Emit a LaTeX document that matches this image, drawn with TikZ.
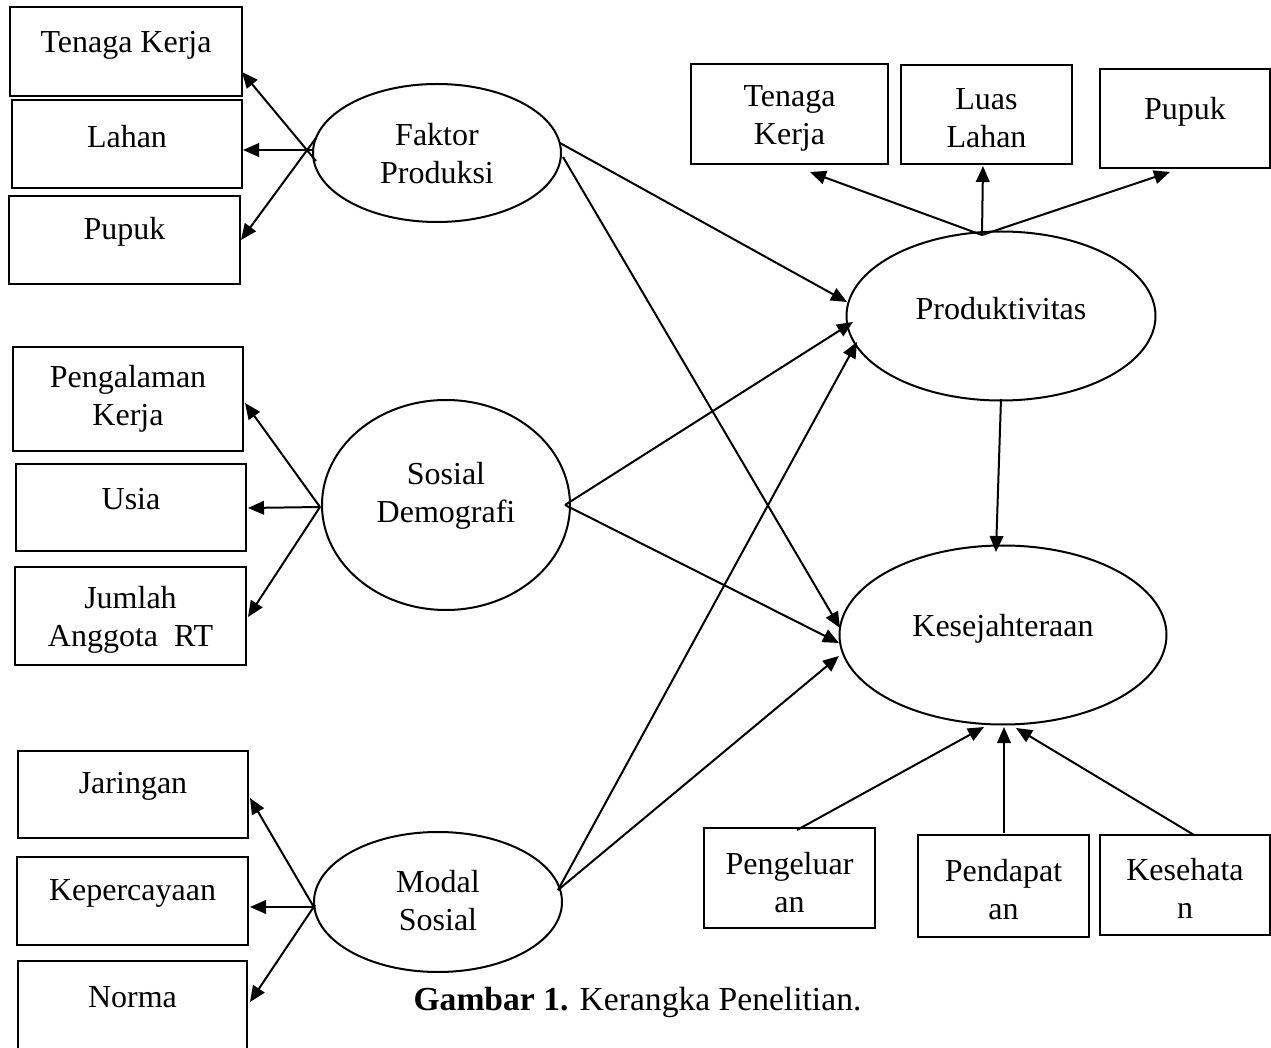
\documentclass[tikz,border=0pt]{standalone}
\usepackage{fontspec}
\setmainfont{Liberation Serif}
\usetikzlibrary{shapes.geometric,arrows.meta}
\begin{document}
\begin{tikzpicture}[x=0.5pt,y=-0.5pt,
  box/.style 2 args={draw, line width=1.2pt, inner sep=0pt, minimum width=#1*0.5pt, minimum height=#2*0.5pt},
  oval/.style 2 args={draw, ellipse, line width=1pt, inner sep=0pt, minimum width=#1*0.5pt, minimum height=#2*0.5pt},
  txt/.style={inner sep=0pt, align=center, font=\fontsize{16}{19}\selectfont},
  arr/.style={line width=1pt, -{Triangle[length=8pt,width=6.8pt]}}]
\useasboundingbox (0,0) rectangle (1271,1048);
% left boxes
\node[box={232}{89}] (l1) at (126,51.5) {};
\node[txt] (l1t) at (126,45) {Tenaga Kerja};
\node[box={230}{88}] (l2) at (127,144) {};
\node[txt] (l2t) at (127,137) {Lahan};
\node[box={231}{88}] (l3) at (124.5,240) {};
\node[txt] (l3t) at (124.5,232) {Pupuk};
\node[box={230}{104}] (l4) at (128,399) {};
\node[txt] (l4t) at (128,399) {Pengalaman\\Kerja};
\node[box={230}{87}] (l5) at (131,507.5) {};
\node[txt] (l5t) at (131,499) {Usia};
\node[box={231}{98}] (l6) at (130.5,616) {};
\node[txt] (l6t) at (130.5,620) {Jumlah\\Anggota\ \ RT};
\node[box={230}{87}] (l7) at (133,794.5) {};
\node[txt] (l7t) at (133,786) {Jaringan};
\node[box={231}{88}] (l8) at (132.5,901) {};
\node[txt] (l8t) at (132.5,893) {Kepercayaan};
\node[box={229}{91}] (l9) at (132.5,1006.5) {};
\node[txt] (l9t) at (132.5,997) {Norma};
% right top boxes
\node[box={197}{100}] (r1) at (789.5,114) {};
\node[txt] (r1t) at (789.5,118) {Tenaga\\Kerja};
\node[box={171}{99}] (r2) at (986.5,114.5) {};
\node[txt] (r2t) at (986.5,118) {Luas\\Lahan};
\node[box={170}{99}] (r3) at (1185,118.5) {};
\node[txt] (r3t) at (1185,112) {Pupuk};
% bottom boxes
\node[box={171}{100}] (b1) at (789.5,878) {};
\node[txt] (b1t) at (789.5,883) {Pengeluar\\an};
\node[box={171}{102}] (b2) at (1003.5,886) {};
\node[txt] (b2t) at (1003.5,889.5) {Pendapat\\an};
\node[box={170}{100}] (b3) at (1185,885) {};
\node[txt] (b3t) at (1185,888) {Kesehata\\n};
% ellipses
\node[oval={248}{138}] (fp) at (437,153) {};
\node[txt] (fpt) at (437,153.5) {Faktor\\Produksi};
\node[oval={248}{210}] (sd) at (446,505) {};
\node[txt] (sdt) at (446,496) {Sosial\\Demografi};
\node[oval={248}{140}] (ms) at (438,902) {};
\node[txt] (mst) at (438,901) {Modal\\Sosial};
\node[oval={309}{169}] (pr) at (1001,316) {};
\node[txt] (prt) at (1001,309) {Produktivitas};
\node[oval={327}{179}] (ks) at (1003,635) {};
\node[txt] (kst) at (1003,629) {Kesejahteraan};
% caption
\node[inner sep=0pt, font=\fontsize{16.8}{20}\selectfont] (cap) at (637.5,1002) {\textbf{Gambar 1.} Kerangka Penelitian.};
% coordinates for connector ends
\coordinate (fpA) at (316,161); \coordinate (l1e) at (242,72);
\coordinate (fpB) at (314,150); \coordinate (l2e) at (243,150);
\coordinate (fpC) at (316,138); \coordinate (l3e) at (241,240);
\coordinate (sdO) at (320,507);
\coordinate (l4e) at (245,403); \coordinate (l5e) at (248,508); \coordinate (l6e) at (248,617);
\coordinate (msA) at (315,909); \coordinate (l7e) at (250,798);
\coordinate (msB) at (315,907); \coordinate (l8e) at (250,907);
\coordinate (msC) at (315,905); \coordinate (l9e) at (250,1002);
\coordinate (prO) at (982,235);
\coordinate (r1e) at (810,172); \coordinate (r2e) at (983,166); \coordinate (r3e) at (1170,172);
\coordinate (prB) at (1001,399); \coordinate (ksT) at (996,552);
\coordinate (fpR1) at (560,143); \coordinate (fpR2) at (563,157);
\coordinate (sdR) at (565,505);
\coordinate (msR) at (558,890);
\coordinate (prL1) at (847,302); \coordinate (prL2) at (853,322); \coordinate (prL3) at (857,342);
\coordinate (ksL1) at (840,628); \coordinate (ksL2) at (839,643); \coordinate (ksL3) at (839,656);
\coordinate (b1s) at (797,830); \coordinate (ksB1) at (984,727);
\coordinate (b2s) at (1004,833); \coordinate (ksB2) at (1004,727);
\coordinate (b3s) at (1194,835); \coordinate (ksB3) at (1016,728);
% arrows to indicator boxes
\draw[arr] (fpA) -- (l1e);
\draw[arr] (fpB) -- (l2e);
\draw[arr] (fpC) -- (l3e);
\draw[arr] (sdO) -- (l4e);
\draw[arr] (sdO) -- (l5e);
\draw[arr] (sdO) -- (l6e);
\draw[arr] (msA) -- (l7e);
\draw[arr] (msB) -- (l8e);
\draw[arr] (msC) -- (l9e);
\draw[arr] (prO) -- (r1e);
\draw[arr] (prO) -- (r2e);
\draw[arr] (prO) -- (r3e);
% main arrows
\draw[arr] (fpR1) -- (prL1);
\draw[arr] (sdR) -- (prL2);
\draw[arr] (msR) -- (prL3);
\draw[arr] (fpR2) -- (ksL1);
\draw[arr] (sdR) -- (ksL2);
\draw[arr] (msR) -- (ksL3);
\draw[arr] (prB) -- (ksT);
\draw[arr] (b1s) -- (ksB1);
\draw[arr] (b2s) -- (ksB2);
\draw[arr] (b3s) -- (ksB3);
\end{tikzpicture}
\end{document}
